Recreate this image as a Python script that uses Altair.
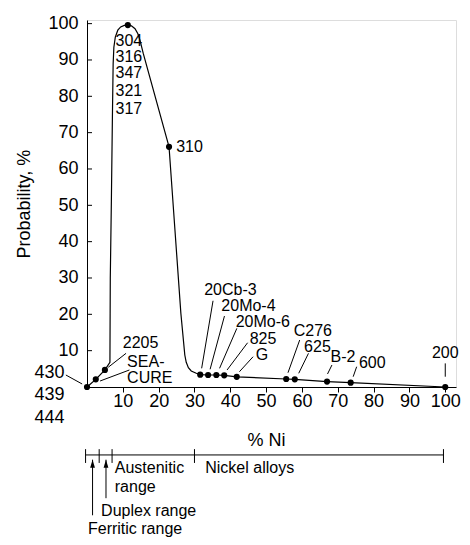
import altair as alt
import pandas as pd

FONT = "Liberation Sans"

# ---- main curve ----
curve_x = [0, 2.45, 5.0, 6.4, 6.5, 6.8, 7.1, 7.3, 7.5, 7.9, 8.6, 9.4, 10.4, 11.4, 12.4, 13.4, 14.2, 14.8, 15.7, 22.9,
           26.2, 27.3, 27.7, 28.3, 29.1, 30.5, 31.6, 33.8, 36.1, 38.3, 41.8, 55.6, 58.0, 67.0, 73.6, 100]
curve_y = [0, 2.1, 4.7, 6.8, 30, 51, 75, 89, 93.5, 96.3, 98.2, 99.1, 99.5, 99.6, 99.4, 98.6, 97.2, 95.4, 91.8, 66.1,
           20.3, 8.8, 6.8, 5.3, 4.4, 3.8, 3.4, 3.3, 3.3, 3.2, 2.8, 2.2, 2.1, 1.5, 1.2, 0]

# ---- alloy points ----
dots_x = [0, 2.45, 5.0, 11.4, 22.9, 31.6, 33.8, 36.1, 38.3, 41.8, 55.6, 58.0, 67.0, 73.6, 100]
dots_y = [0, 2.1, 4.7, 99.6, 66.1, 3.4, 3.3, 3.3, 3.2, 2.8, 2.2, 2.1, 1.5, 1.2, 0]

# ---- alloy labels ----
lab_left_text = ["304", "316", "347", "321", "317", "310", "2205", "SEA-", "CURE",
                 "20Cb-3", "20Mo-4", "20Mo-6", "825", "G", "C276", "625", "B-2", "600"]
lab_left_x = [7.96, 7.96, 7.96, 7.96, 7.96, 24.9, 10.0, 11.2, 11.2,
              32.7, 37.5, 41.5, 45.4, 47.1, 57.7, 60.6, 68.0, 75.9]
lab_left_y = [95.2, 90.8, 86.3, 81.5, 76.6, 66.1, 12.2, 6.9, 2.4,
              26.7, 22.3, 18.0, 13.2, 8.8, 15.5, 11.0, 8.3, 6.5]

lab_right_text = ["430", "439", "444"]
lab_right_x = [-6.3, -6.3, -6.3]
lab_right_y = [3.85, -2.2, -8.5]

lab_center_text = ["200"]
lab_center_x = [100]
lab_center_y = [9.3]

# ---- leader lines ----
lead_x = [-5.9, 10.9, 11.84, 35.18, 38.37, 41.83, 44.83, 46.36, 59.37, 61.82, 68.37, 75.27, 100]
lead_y = [3.3, 9.27, 4.68, 23.73, 19.53, 16.14, 12.18, 8.33, 12.93, 9.27, 6.05, 5.58, 6.5]
lead_x2 = [-1.36, 5.92, 3.65, 32.0, 34.36, 37.0, 39.1, 42.54, 56.1, 59.1, 67.14, 74.3, 100]
lead_y2 = [0.83, 5.42, 1.65, 5.14, 4.87, 5.14, 4.68, 4.2, 3.93, 3.77, 3.58, 2.83, 2.83]

# ---- axis ticks ----
tick_vals = [10, 20, 30, 40, 50, 60, 70, 80, 90, 100]

# ---- range diagram below axis ----
range_line_x = [-0.4]
range_line_x2 = [99.5]
range_line_y = [-18.7]
range_ticks_x = [-0.4, 3.4, 7.0, 30.0, 99.5]
range_tick_y = [-17.1]
range_tick_y2 = [-20.9]
arrow_x = [1.55, 5.3]
arrow_top = [-20.0, -20.0]
arrow_bottom = [-35.3, -30.6]
arrow_head_y = [-21.1, -21.1]
range_text = ["Austenitic", "range", "Duplex range", "Ferritic range", "Nickel alloys"]
range_text_x = [7.75, 7.75, 3.93, 0.27, 33.0]
range_text_y = [-22.3, -27.5, -34.2, -39.1, -22.3]

xs = alt.Scale(domain=[0, 103], nice=False, zero=False)
ys = alt.Scale(domain=[0, 101], nice=False, zero=False)

x_axis = alt.Axis(
    values=tick_vals, title="% Ni", titleX=179, titleY=58.7, titleBaseline="alphabetic",
    titleFontSize=18, titleFontWeight="normal", titleFont=FONT, titleColor="black",
    labelFontSize=18, labelFont=FONT, labelColor="black", labelPadding=0,
    tickSize=5, tickColor="black", domainColor="black", grid=False,
    labelFlush=False, labelOverlap=False)
y_axis = alt.Axis(
    values=tick_vals, title="Probability, %", titleX=-57.8, titleY=183.6, titleAngle=270,
    titleBaseline="alphabetic", titleAlign="center",
    titleFontSize=18, titleFontWeight="normal", titleFont=FONT, titleColor="black",
    labelFontSize=18, labelFont=FONT, labelColor="black", labelPadding=9,
    ticks=False, tickSize=0, domainColor="black", grid=False,
    labelFlush=False, labelOverlap=False)


def X(f):
    return alt.X(f, type="quantitative", scale=xs, axis=x_axis)


def Y(f):
    return alt.Y(f, type="quantitative", scale=ys, axis=y_axis)


curve_df = pd.DataFrame({"x": curve_x, "y": curve_y, "i": list(range(len(curve_x)))})

line = alt.Chart(curve_df).mark_line(color="black", strokeWidth=1.2, interpolate="linear").encode(
    x=X("x"), y=Y("y"), order="i:Q")

dots = alt.Chart(pd.DataFrame({"x": dots_x, "y": dots_y})).mark_circle(
    color="black", size=38, opacity=1).encode(x=X("x"), y=Y("y"))

ytick_df = pd.DataFrame({"y": tick_vals, "x": [0] * len(tick_vals), "x2": [1.4] * len(tick_vals)})
yticks = alt.Chart(ytick_df).mark_rule(color="black", strokeWidth=1).encode(
    x=X("x"), x2="x2", y=Y("y"))

left_labels = alt.Chart(pd.DataFrame({"t": lab_left_text, "x": lab_left_x, "y": lab_left_y})).mark_text(
    align="left", baseline="middle", fontSize=16, font=FONT, color="black").encode(
    x=X("x"), y=Y("y"), text="t:N")

right_labels = alt.Chart(pd.DataFrame({"t": lab_right_text, "x": lab_right_x, "y": lab_right_y})).mark_text(
    align="right", baseline="middle", fontSize=18, font=FONT, color="black").encode(
    x=X("x"), y=Y("y"), text="t:N")

center_labels = alt.Chart(pd.DataFrame({"t": lab_center_text, "x": lab_center_x, "y": lab_center_y})).mark_text(
    align="center", baseline="middle", fontSize=16, font=FONT, color="black").encode(
    x=X("x"), y=Y("y"), text="t:N")

leaders = alt.Chart(pd.DataFrame({"x": lead_x, "y": lead_y, "x2": lead_x2, "y2": lead_y2})).mark_rule(
    color="black", strokeWidth=1).encode(x=X("x"), y=Y("y"), x2="x2", y2="y2")

range_line = alt.Chart(pd.DataFrame({"x": range_line_x, "x2": range_line_x2, "y": range_line_y})).mark_rule(
    color="black", strokeWidth=1).encode(x=X("x"), x2="x2", y=Y("y"))

range_ticks = alt.Chart(pd.DataFrame({"x": range_ticks_x,
                                      "y": range_tick_y * len(range_ticks_x),
                                      "y2": range_tick_y2 * len(range_ticks_x)})).mark_rule(
    color="black", strokeWidth=1).encode(x=X("x"), y=Y("y"), y2="y2")

arrows = alt.Chart(pd.DataFrame({"x": arrow_x, "y": arrow_top, "y2": arrow_bottom})).mark_rule(
    color="black", strokeWidth=1).encode(x=X("x"), y=Y("y"), y2="y2")

heads = alt.Chart(pd.DataFrame({"x": arrow_x, "y": arrow_head_y})).mark_point(
    shape="M0,-1L0.6,1L-0.6,1Z", filled=True, color="black", size=64, opacity=1, strokeWidth=0).encode(
    x=X("x"), y=Y("y"))

range_labels = alt.Chart(pd.DataFrame({"t": range_text, "x": range_text_x, "y": range_text_y})).mark_text(
    align="left", baseline="middle", fontSize=16, font=FONT, color="black").encode(
    x=X("x"), y=Y("y"), text="t:N")

chart = alt.layer(
    line, yticks, leaders, dots, left_labels, right_labels, center_labels,
    range_line, range_ticks, arrows, heads, range_labels,
).properties(
    width=369, height=367,
    autosize=alt.AutoSizeParams(type="none"),
    padding={"left": 79, "top": 12, "right": 6, "bottom": 150},
).configure_view(stroke=None).configure(font=FONT)

chart.save("out.html", embed_options={"renderer": "svg", "actions": False})
